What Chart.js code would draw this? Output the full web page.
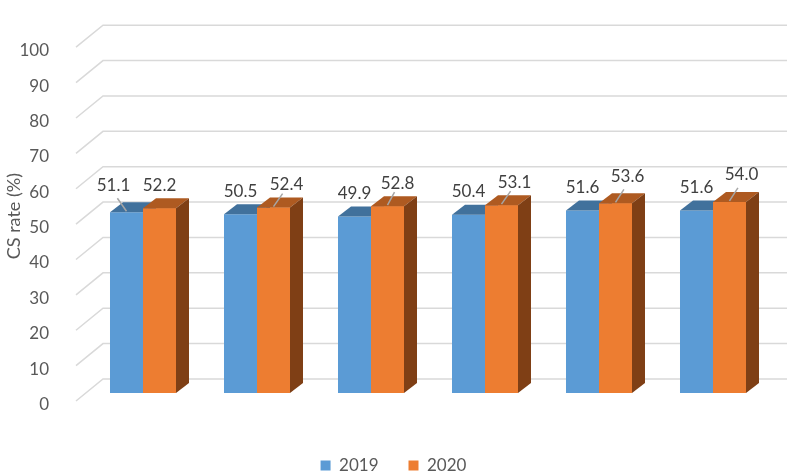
<!DOCTYPE html>
<html>
<head>
    <title>CS rate 2019 vs 2020</title>
    <script src="https://cdn.jsdelivr.net/npm/chart.js"></script>
    <style>
        html, body { margin: 0; padding: 0; overflow: hidden; background: #fff; }
        #chart-container { width: 787px; height: 484px; }
    </style>
</head>
<body>
    <div id="chart-container">
        <canvas id="chart"></canvas>
    </div>

    <script>
        const months = ['March', 'April', 'May', 'June', 'July', 'August'];
        const rate2019 = [51.1, 50.5, 49.9, 50.4, 51.6, 51.6];
        const rate2020 = [52.2, 52.4, 52.8, 53.1, 53.6, 54.0];
        const yTicks = [0, 10, 20, 30, 40, 50, 60, 70, 80, 90, 100];

        // label nudges (px) for the data labels, as placed in the original
        const nudge2019 = [[-13, -4], [0, 0], [0, 0], [0, 0], [0, 0], [0, 0]];
        const nudge2020 = [[0, 0], [13, 0], [10, 0], [13, 0], [12, -4], [12, -4]];

        const depthX = 13, depthY = 10;
        const faceColors = [
            { top: '#41719c', side: '#2e5a85' },
            { top: '#ae5a21', side: '#7f3f15' }
        ];

        // perspective grid: back wall + diagonals to the front plane
        const gridPlugin = {
            id: 'grid3d',
            beforeDatasetsDraw(chart) {
                const ctx = chart.ctx;
                const y = chart.scales.y;
                const left = chart.chartArea.left;
                ctx.save();
                ctx.strokeStyle = '#d9d9d9';
                ctx.lineWidth = 1.5;
                yTicks.forEach(v => {
                    const p = y.getPixelForValue(v);
                    ctx.beginPath();
                    ctx.moveTo(left - 10, p + 8);
                    ctx.lineTo(left + 17, p - 14);
                    ctx.lineTo(chart.width, p - 14);
                    ctx.stroke();
                });
                ctx.restore();
            }
        };

        function drawFaces(ctx, bar, col) {
            const { x, y, base, width } = bar.getProps(['x', 'y', 'base', 'width'], true);
            const l = x - width / 2, r = x + width / 2;
            ctx.fillStyle = col.top;
            ctx.beginPath();
            ctx.moveTo(l, y);
            ctx.lineTo(r, y);
            ctx.lineTo(r + depthX, y - depthY);
            ctx.lineTo(l + depthX, y - depthY);
            ctx.closePath();
            ctx.fill();
            ctx.fillStyle = col.side;
            ctx.beginPath();
            ctx.moveTo(r, y);
            ctx.lineTo(r + depthX, y - depthY);
            ctx.lineTo(r + depthX, base - depthY);
            ctx.lineTo(r, base);
            ctx.closePath();
            ctx.fill();
        }

        // top and side faces, back to front: blue faces, then orange front over them
        const depthPlugin = {
            id: 'depth3d',
            afterDatasetsDraw(chart) {
                const ctx = chart.ctx;
                const blue = chart.getDatasetMeta(0).data;
                const orange = chart.getDatasetMeta(1).data;
                ctx.save();
                blue.forEach((bar, i) => {
                    drawFaces(ctx, bar, faceColors[0]);
                    orange[i].draw(ctx);
                    drawFaces(ctx, orange[i], faceColors[1]);
                });

                ctx.font = '17px Lato';
                ctx.textAlign = 'center';
                ctx.textBaseline = 'middle';
                chart.data.datasets.forEach((ds, di) => {
                    const nudges = di === 0 ? nudge2019 : nudge2020;
                    chart.getDatasetMeta(di).data.forEach((bar, i) => {
                        const [dx, dy] = nudges[i];
                        const lx = bar.x + dx;
                        const ly = bar.y - 23 + dy;
                        if (dx !== 0) {
                            ctx.strokeStyle = '#a6a6a6';
                            ctx.lineWidth = 1.5;
                            ctx.beginPath();
                            ctx.moveTo(bar.x, bar.y - 1);
                            ctx.lineTo(lx - dx * 0.3, ly + 9 - dy);
                            ctx.stroke();
                        }
                        ctx.fillStyle = '#404040';
                        ctx.fillText(ds.data[i].toFixed(1), lx, ly);
                    });
                });
                ctx.restore();
            }
        };

        Chart.defaults.font.family = 'Lato';
        Chart.defaults.font.size = 17;
        Chart.defaults.color = '#595959';

        const ctx = document.getElementById('chart').getContext('2d');
        new Chart(ctx, {
            type: 'bar',
            data: {
                labels: months,
                datasets: [
                    { label: '2019', data: rate2019, backgroundColor: '#5b9bd5', borderWidth: 0 },
                    { label: '2020', data: rate2020, backgroundColor: '#ed7d31', borderWidth: 0 }
                ]
            },
            options: {
                responsive: true,
                maintainAspectRatio: false,
                animation: false,
                layout: { padding: { top: 14, left: 0, right: 0, bottom: 0 } },
                datasets: { bar: { categoryPercentage: 0.579, barPercentage: 1 } },
                plugins: {
                    tooltip: { enabled: false },
                    legend: {
                        position: 'bottom',
                        labels: { boxWidth: 10, boxHeight: 10, padding: 30, color: '#595959' }
                    }
                },
                scales: {
                    x: {
                        grid: { display: false },
                        border: { display: false },
                        ticks: { padding: 28, labelOffset: -11, autoSkip: false, maxRotation: 0 },
                        afterFit: s => { s.height = 34; }
                    },
                    y: {
                        min: 0,
                        max: 100,
                        grid: { display: false },
                        border: { display: false },
                        ticks: { stepSize: 10, padding: 29, labelOffset: 11.5 },
                        title: {
                            display: true, text: 'CS rate (%)', color: '#595959',
                            font: { size: 18 }, padding: { top: 3, bottom: 4 }
                        },
                        afterFit: s => { s.width = 86; }
                    },
                    yRight: {
                        type: 'linear',
                        position: 'right',
                        display: true,
                        grid: { display: false },
                        border: { display: false },
                        ticks: { display: false },
                        afterFit: s => { s.width = 17; }
                    }
                }
            },
            plugins: [gridPlugin, depthPlugin]
        });
    </script>
</body>
</html>
